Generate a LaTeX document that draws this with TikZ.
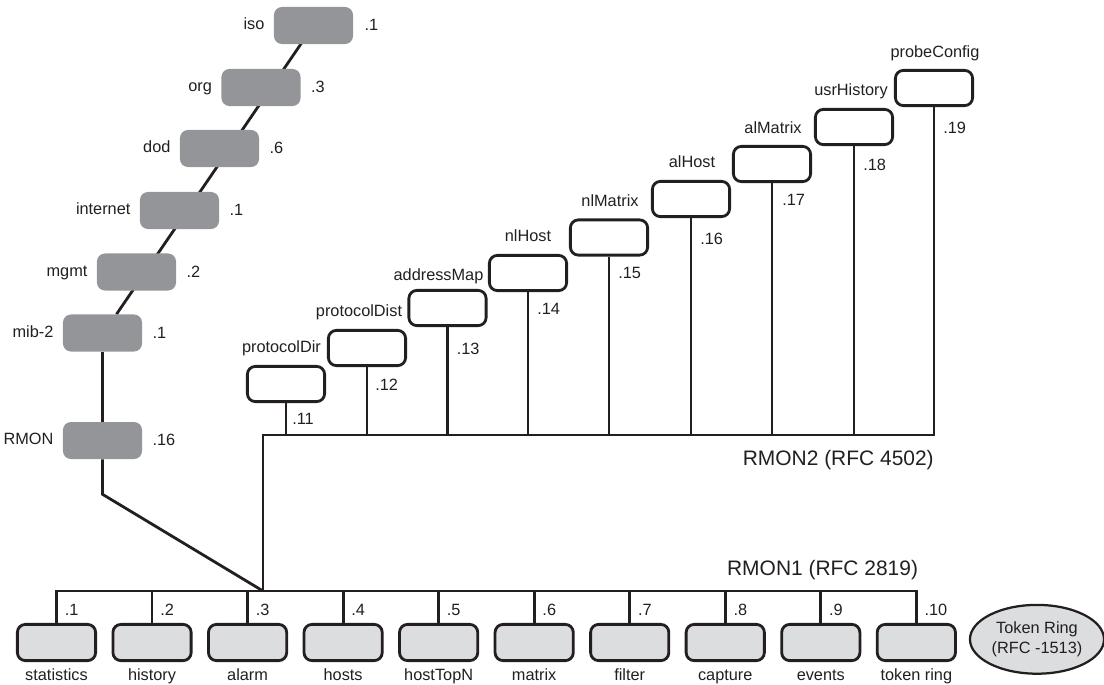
\documentclass[tikz,border=0pt]{standalone}
\usepackage{fontspec}
\setmainfont{Liberation Sans}
\usetikzlibrary{positioning,calc,backgrounds,shapes.geometric}
\definecolor{oidgris}{HTML}{939598}
\definecolor{grupogris}{HTML}{DCDDDE}
\definecolor{tinta}{HTML}{231F20}

\begin{document}
\begin{tikzpicture}[
    x=0.025cm, y=-0.025cm,
    font=\fontsize{11.6pt}{14.2pt}\selectfont,
    treenode/.style={rounded corners=0.2cm, fill=oidgris, minimum width=1.975cm, minimum height=0.925cm, inner sep=0pt},
    r2group/.style={rounded corners=0.2cm, draw=tinta, line width=2pt, fill=white, minimum width=1.93cm, minimum height=0.88cm, inner sep=0pt},
    r1group/.style={rounded corners=0.2cm, draw=tinta, line width=2pt, fill=grupogris, minimum width=1.955cm, minimum height=0.905cm, inner sep=0pt},
    wire/.style={line width=2pt, color=tinta},
    oid/.style={inner sep=0pt, text=tinta},
    busname/.style={inner sep=0pt, text=tinta, font=\fontsize{14.9pt}{17pt}\selectfont}
  ]
  \useasboundingbox (0,0) rectangle (1104,684);

  % OID tree down to RMON
  \node[treenode] (iso) at (313.5,25.5) {};
  \node[treenode] (org) at (261,87.5) {};
  \node[treenode] (dod) at (219.5,148.5) {};
  \node[treenode] (inet) at (179.5,210.5) {};
  \node[treenode] (mgmt) at (136.5,272) {};
  \node[treenode] (mib) at (102.5,333) {};
  \node[treenode] (rmon) at (102.5,440.5) {};

  \node[oid, anchor=mid east] (isoname) at ($(iso.west)+(-9,0.5)$) {iso};
  \node[oid, anchor=mid east] (orgname) at ($(org.west)+(-9,0.5)$) {org};
  \node[oid, anchor=mid east] (dodname) at ($(dod.west)+(-9,0.5)$) {dod};
  \node[oid, anchor=mid east] (inetname) at ($(inet.west)+(-9,0.5)$) {internet};
  \node[oid, anchor=mid east] (mgmtname) at ($(mgmt.west)+(-9,0.5)$) {mgmt};
  \node[oid, anchor=mid east] (mibname) at ($(mib.west)+(-9,0.5)$) {mib-2};
  \node[oid, anchor=mid east] (rmonname) at ($(rmon.west)+(-9,0.5)$) {RMON};

  \node[oid, anchor=mid west] (isonum) at ($(iso.east)+(11,1.5)$) {.1};
  \node[oid, anchor=mid west] (orgnum) at ($(org.east)+(10,1.5)$) {.3};
  \node[oid, anchor=mid west] (dodnum) at ($(dod.east)+(10,1.5)$) {.6};
  \node[oid, anchor=mid west] (inetnum) at ($(inet.east)+(10,1.5)$) {.1};
  \node[oid, anchor=mid west] (mgmtnum) at ($(mgmt.east)+(10,1.5)$) {.2};
  \node[oid, anchor=mid west] (mibnum) at ($(mib.east)+(10,1.5)$) {.1};
  \node[oid, anchor=mid west] (rmonnum) at ($(rmon.east)+(10,1.5)$) {.16};

  \begin{scope}[on background layer]
    \draw[wire] (iso.center) -- ([xshift=0.35cm]mib.north);
  \end{scope}
  \draw[wire] (mib) -- (rmon);

  % RMON1 groups
  \node[r1group] (stats) at (56.5,642.5) {};
  \node[r1group, right=0.3625cm of stats] (hist) {};
  \node[r1group, right=0.3625cm of hist] (alarm) {};
  \node[r1group, right=0.3625cm of alarm] (hosts) {};
  \node[r1group, right=0.3625cm of hosts] (topn) {};
  \node[r1group, right=0.3625cm of topn] (matrix) {};
  \node[r1group, right=0.3625cm of matrix] (filter) {};
  \node[r1group, right=0.3625cm of filter] (capture) {};
  \node[r1group, right=0.3625cm of capture] (events) {};
  \node[r1group, right=0.3625cm of events] (tokr) {};
  \node[ellipse, draw=tinta, line width=1.6pt, fill=grupogris, text=tinta, minimum width=3.35cm, minimum height=1.72cm, inner sep=0pt, align=center, right=0.3cm of tokr, yshift=0.08cm] (tokenring) {Token Ring\\(RFC -1513)};

  \node[oid, anchor=mid] (statsname) at ($(stats.south)+(0,14.5)$) {statistics};
  \node[oid, anchor=mid] (histname) at ($(hist.south)+(0,14.5)$) {history};
  \node[oid, anchor=mid] (alarmname) at ($(alarm.south)+(0,14.5)$) {alarm};
  \node[oid, anchor=mid] (hostsname) at ($(hosts.south)+(0,14.5)$) {hosts};
  \node[oid, anchor=mid] (topnname) at ($(topn.south)+(0,14.5)$) {hostTopN};
  \node[oid, anchor=mid] (matrixname) at ($(matrix.south)+(0,14.5)$) {matrix};
  \node[oid, anchor=mid] (filtername) at ($(filter.south)+(0,14.5)$) {filter};
  \node[oid, anchor=mid] (capturename) at ($(capture.south)+(0,14.5)$) {capture};
  \node[oid, anchor=mid] (eventsname) at ($(events.south)+(0,14.5)$) {events};
  \node[oid, anchor=mid] (tokrname) at ($(tokr.south)+(0,14.5)$) {token ring};

  \node[oid, anchor=mid west] (statsnum) at ($(stats.north)+(8,-11.5)$) {.1};
  \node[oid, anchor=mid west] (histnum) at ($(hist.north)+(8,-11.5)$) {.2};
  \node[oid, anchor=mid west] (alarmnum) at ($(alarm.north)+(8,-11.5)$) {.3};
  \node[oid, anchor=mid west] (hostsnum) at ($(hosts.north)+(8,-11.5)$) {.4};
  \node[oid, anchor=mid west] (topnnum) at ($(topn.north)+(8,-11.5)$) {.5};
  \node[oid, anchor=mid west] (matrixnum) at ($(matrix.north)+(8,-11.5)$) {.6};
  \node[oid, anchor=mid west] (filternum) at ($(filter.north)+(8,-11.5)$) {.7};
  \node[oid, anchor=mid west] (capturenum) at ($(capture.north)+(8,-11.5)$) {.8};
  \node[oid, anchor=mid west] (eventsnum) at ($(events.north)+(8,-11.5)$) {.9};
  \node[oid, anchor=mid west] (tokrnum) at ($(tokr.north)+(8,-11.5)$) {.10};

  \coordinate (junction) at (263,591);
  \draw[wire] (rmon.south) -- ++(0,35) -- (junction);
  \draw[wire] (stats.north) -- (stats.north |- junction) -- (tokr.north |- junction) -- (tokr.north);
  \draw[wire] (hist.north) -- (hist.north |- junction);
  \draw[wire] (alarm.north) -- (alarm.north |- junction);
  \draw[wire] (hosts.north) -- (hosts.north |- junction);
  \draw[wire] (topn.north) -- (topn.north |- junction);
  \draw[wire] (matrix.north) -- (matrix.north |- junction);
  \draw[wire] (filter.north) -- (filter.north |- junction);
  \draw[wire] (capture.north) -- (capture.north |- junction);
  \draw[wire] (events.north) -- (events.north |- junction);
  \node[busname, anchor=mid east] (rmonone) at ($(junction -| tokr.north)+(2,-19)$) {RMON1 (RFC 2819)};

  % RMON2 groups
  \node[r2group] (pdir) at (286,384) {};
  \node[r2group] (pdist) at (367,348) {};
  \node[r2group] (amap) at (447.5,308) {};
  \node[r2group] (nlh) at (528,273) {};
  \node[r2group] (nlm) at (609,237.5) {};
  \node[r2group] (alh) at (691,199) {};
  \node[r2group] (alm) at (772,164) {};
  \node[r2group] (usrh) at (854,127) {};
  \node[r2group] (pcfg) at (934,88) {};

  \node[oid, anchor=mid] (pdirname) at ($(pdir.north)+(-4.5,-16)$) {protocolDir};
  \node[oid, anchor=mid] (pdistname) at ($(pdist.north)+(-8,-16)$) {protocolDist};
  \node[oid, anchor=mid] (amapname) at ($(amap.north)+(-9,-12)$) {addressMap};
  \node[oid, anchor=mid] (nlhname) at ($(nlh.north)+(0,-16)$) {nlHost};
  \node[oid, anchor=mid] (nlmname) at ($(nlm.north)+(1,-16)$) {nlMatrix};
  \node[oid, anchor=mid] (alhname) at ($(alh.north)+(1,-16)$) {alHost};
  \node[oid, anchor=mid] (almname) at ($(alm.north)+(1,-15)$) {alMatrix};
  \node[oid, anchor=mid] (usrhname) at ($(usrh.north)+(-3,-16)$) {usrHistory};
  \node[oid, anchor=mid] (pcfgname) at ($(pcfg.north)+(1,-15)$) {probeConfig};

  \node[oid, anchor=mid west] (pdirnum) at ($(pdir.south)+(6,17.5)$) {.11};
  \node[oid, anchor=mid west] (pdistnum) at ($(pdist.south)+(8,19.5)$) {.12};
  \node[oid, anchor=mid west] (amapnum) at ($(amap.south)+(9,23.5)$) {.13};
  \node[oid, anchor=mid west] (nlhnum) at ($(nlh.south)+(9,18.5)$) {.14};
  \node[oid, anchor=mid west] (nlmnum) at ($(nlm.south)+(9,18.5)$) {.15};
  \node[oid, anchor=mid west] (alhnum) at ($(alh.south)+(9,22.5)$) {.16};
  \node[oid, anchor=mid west] (almnum) at ($(alm.south)+(10,18.5)$) {.17};
  \node[oid, anchor=mid west] (usrhnum) at ($(usrh.south)+(9,20.5)$) {.18};
  \node[oid, anchor=mid west] (pcfgnum) at ($(pcfg.south)+(9,22.5)$) {.19};

  \coordinate (bustwo) at (263,435);
  \draw[wire] (junction) -- (bustwo) -- (bustwo -| pcfg.south) -- (pcfg.south);
  \draw[wire] (pdir.south) -- (pdir.south |- bustwo);
  \draw[wire] (pdist.south) -- (pdist.south |- bustwo);
  \draw[wire] (amap.south) -- (amap.south |- bustwo);
  \draw[wire] (nlh.south) -- (nlh.south |- bustwo);
  \draw[wire] (nlm.south) -- (nlm.south |- bustwo);
  \draw[wire] (alh.south) -- (alh.south |- bustwo);
  \draw[wire] (alm.south) -- (alm.south |- bustwo);
  \draw[wire] (usrh.south) -- (usrh.south |- bustwo);
  \node[busname, anchor=mid east] (rmontwo) at ($(bustwo -| pcfg.south)+(0,27)$) {RMON2 (RFC 4502)};
\end{tikzpicture}
\end{document}
